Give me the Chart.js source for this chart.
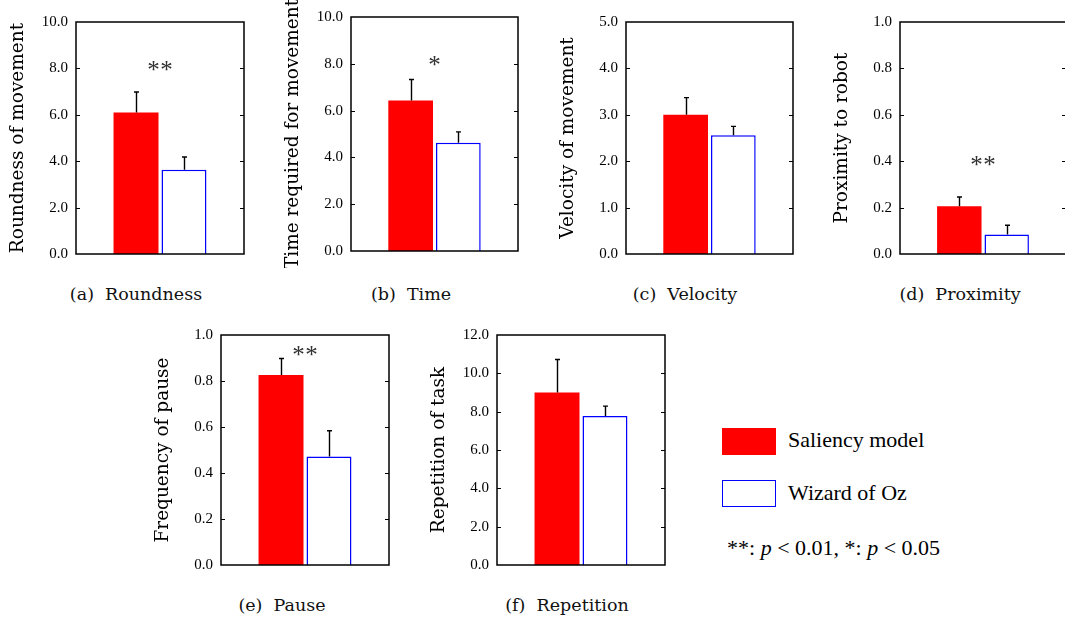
<!DOCTYPE html>
<html><head><meta charset="utf-8">
<script src="https://cdn.jsdelivr.net/npm/chart.js@4.4.0/dist/chart.umd.min.js"></script>
<style>
html,body{margin:0;padding:0;background:#fff;overflow:hidden;width:1065px;height:625px;}
canvas{position:absolute;}
.cap{position:absolute;font-family:"DejaVu Serif",serif;font-size:17.5px;color:#111;white-space:pre;transform:translate(-50%,-50%);line-height:1;}
.leg{position:absolute;font-family:"Liberation Serif","Times New Roman",serif;font-size:22px;color:#000;white-space:pre;line-height:1;}
.box{position:absolute;box-sizing:border-box;}
</style></head><body>
<div class="box" style="left:722px;top:428px;width:54px;height:27px;background:#ff0000;"></div>
<div class="box" style="left:722px;top:480px;width:54px;height:27px;background:#fff;border:1.5px solid #0000ff;"></div>
<div class="leg" style="left:788px;top:429px;">Saliency model</div>
<div class="leg" style="left:788px;top:482px;">Wizard of Oz</div>
<div class="leg" style="left:727px;top:537px;">**: <i>p</i> &lt; 0.01, *: <i>p</i> &lt; 0.05</div>
<script>
// ---- data ----
const categories = ['Roundness', 'Time', 'Velocity', 'Proximity', 'Pause', 'Repetition'];
const captions = ['(a)  Roundness', '(b)  Time', '(c)  Velocity', '(d)  Proximity', '(e)  Pause', '(f)  Repetition'];
const axisTitles = ['Roundness of movement', 'Time required for movement', 'Velocity of movement', 'Proximity to robot', 'Frequency of pause', 'Repetition of task'];
const seriesNames = ['Saliency model', 'Wizard of Oz'];
const saliencyMeans  = [6.10, 6.43, 3.00, 0.206, 0.826, 9.00];
const saliencyErrors = [0.88, 0.90, 0.37, 0.040, 0.072, 1.72];
const wozMeans       = [3.63, 4.63, 2.56, 0.084, 0.472, 7.78];
const wozErrors      = [0.55, 0.46, 0.19, 0.040, 0.112, 0.51];
const yMax  = [10, 10, 5, 1, 1, 12];
const yStep = [2, 2, 1, 0.2, 0.2, 2];
const sigLabels = ['**', '*', '', '**', '**', ''];
const sigLevels = [8.1, 8.12, null, 0.40, 0.93, null];

// ---- layout (plot boxes: left, top, right, bottom; row top) ----
const plotBoxes = [[76,22,244,257],[351,17,518,254],[626,22,793,257],[900,22,1066,257],[221,333,389,568],[497,333,665,568]];
const rowTops = [0,0,0,0,318,318];
const captionPos = [[136,295],[411,295],[685,295],[960,295],[282,606],[567,606]];

const framePlugin = {
  id: 'frame',
  afterDraw(chart) {
    const {ctx, chartArea: a} = chart;
    const ys = chart.scales.y;
    ctx.save();
    ctx.strokeStyle = '#000';
    ctx.lineWidth = 1.5;
    ctx.strokeRect(a.left, a.top, a.right - a.left, a.bottom - a.top);
    ctx.lineWidth = 1.2;
    ys.ticks.forEach((t, k) => {
      if (k === 0 || k === ys.ticks.length - 1) return;
      const y = Math.round(ys.getPixelForValue(t.value)) + 0.5;
      ctx.beginPath();
      ctx.moveTo(a.left, y); ctx.lineTo(a.left + 4, y);
      ctx.moveTo(a.right - 4, y); ctx.lineTo(a.right, y);
      ctx.stroke();
    });
    ctx.restore();
  }
};
const errorPlugin = {
  id: 'errbars',
  afterDatasetsDraw(chart) {
    const {ctx} = chart;
    const ys = chart.scales.y;
    ctx.save();
    ctx.strokeStyle = '#000';
    ctx.lineWidth = 1.4;
    chart.data.datasets.forEach((ds, d) => {
      const meta = chart.getDatasetMeta(d);
      meta.data.forEach((bar, j) => {
        const top = ys.getPixelForValue(ds.data[j] + ds.errors[j]);
        const x = Math.round(bar.x) + 0.5;
        ctx.beginPath();
        ctx.moveTo(x, bar.y); ctx.lineTo(x, top);
        ctx.moveTo(x - 2.5, top); ctx.lineTo(x + 2.5, top);
        ctx.stroke();
      });
    });
    ctx.restore();
  }
};
const sigPlugin = {
  id: 'sig',
  afterDraw(chart, args, opts) {
    if (!opts.text) return;
    const {ctx, chartArea: a} = chart;
    const size = 25, gap = 13;
    const y = chart.scales.y.getPixelForValue(opts.level);
    const cx = (a.left + a.right) / 2;
    const chars = opts.text.split('');
    ctx.save();
    ctx.fillStyle = '#333';
    ctx.font = size + 'px "Liberation Serif", serif';
    ctx.textAlign = 'center';
    ctx.textBaseline = 'alphabetic';
    chars.forEach((c, k) => {
      ctx.fillText(c, cx + (k - (chars.length - 1) / 2) * gap, y + 0.48 * size);
    });
    ctx.restore();
  }
};

categories.forEach((cat, i) => {
  const [L, T, R, B] = plotBoxes[i];
  const rt = rowTops[i];
  const cv = document.createElement('canvas');
  const w = R - L + 76 + 8, h = B - rt + 14;
  cv.width = w; cv.height = h;
  cv.style.left = (L - 76) + 'px'; cv.style.top = rt + 'px';
  cv.style.width = w + 'px'; cv.style.height = h + 'px';
  document.body.appendChild(cv);

  const cap = document.createElement('div');
  cap.className = 'cap';
  cap.textContent = captions[i];
  cap.style.left = captionPos[i][0] + 'px';
  cap.style.top = captionPos[i][1] + 'px';
  document.body.appendChild(cap);

  new Chart(cv, {
    type: 'bar',
    data: {
      labels: [cat],
      datasets: [
        {label: seriesNames[0], data: [saliencyMeans[i]], errors: [saliencyErrors[i]],
         backgroundColor: '#ff0000', borderColor: '#ff0000', borderWidth: 0,
         categoryPercentage: 0.571, barPercentage: 0.9375},
        {label: seriesNames[1], data: [wozMeans[i]], errors: [wozErrors[i]],
         backgroundColor: '#ffffff', borderColor: '#0000ff', borderWidth: 1.5, borderSkipped: 'start',
         categoryPercentage: 0.571, barPercentage: 0.9375}
      ]
    },
    options: {
      responsive: false, animation: false, devicePixelRatio: 1,
      layout: {padding: {top: T - rt, bottom: 14, right: 8, left: 0}},
      plugins: {
        legend: {display: false}, tooltip: {enabled: false},
        sig: {text: sigLabels[i], level: sigLevels[i]}
      },
      scales: {
        x: {display: false, grid: {display: false}},
        y: {
          min: 0, max: yMax[i],
          afterFit: s => { s.width = 76; },
          ticks: {stepSize: yStep[i], padding: 8, color: '#000',
                  font: {family: '"Liberation Serif", serif', size: 15},
                  callback: v => Number(v).toFixed(1)},
          grid: {display: false, drawTicks: false},
          border: {display: false},
          title: {display: true, text: axisTitles[i], color: '#000',
                  font: {family: '"DejaVu Serif", serif', size: 18.5}, padding: {top: 7, bottom: 0}}
        }
      }
    },
    plugins: [errorPlugin, framePlugin, sigPlugin]
  });
});
</script>
</body></html>
